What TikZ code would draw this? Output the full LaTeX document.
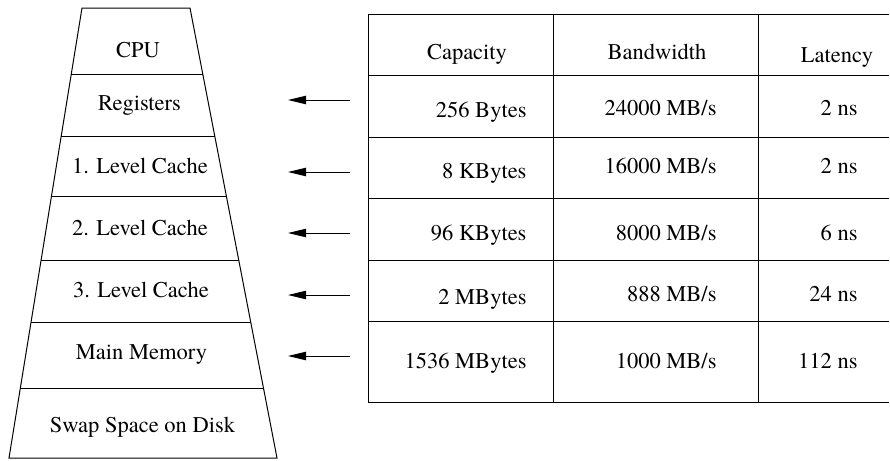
\documentclass[tikz,border=0pt]{standalone}
\usepackage{fontspec}
\setmainfont{TeX Gyre Termes}
\usetikzlibrary{calc,arrows.meta}
\begin{document}
\begin{tikzpicture}[x=0.5pt,y=-0.5pt,line width=0.5pt,
  every node/.style={font=\fontsize{11.25}{13}\selectfont,inner sep=0pt},
  layer/.style={anchor=base},
  head/.style={anchor=base},
  val/.style={anchor=base east},
  ptr/.style={-{Triangle[length=9pt,width=4.2pt]}}]
\useasboundingbox (0,0) rectangle (890,461);

% memory hierarchy pyramid
\coordinate (tl) at (82,8);
\coordinate (tr) at (190,8);
\coordinate (bl) at (9,458);
\coordinate (br) at (277,458);
\draw (tl) -- (tr) -- (br) -- (bl) -- cycle;
\foreach \y in {75,136,196,260,322,388}
  \draw ($(tl)!{(\y-8)/450}!(bl)$) -- ($(tr)!{(\y-8)/450}!(br)$);

\node[layer] (cpu)  at (138,57)  {CPU};
\node[layer] (reg)  at (139.5,110) {Registers};
\node[layer] (l1)   at (140,173) {1. Level Cache};
\node[layer] (l2)   at (140,235) {2. Level Cache};
\node[layer] (l3)   at (141,297) {3. Level Cache};
\node[layer] (mem)  at (141.5,359) {Main Memory};
\node[layer] (swap) at (142.5,432) {Swap Space on Disk};

% table grid
\foreach \y in {14,75,137,198,260,321,402}
  \draw (368,\y) -- (889,\y);
\foreach \x in {368,553,758}
  \draw (\x,14) -- (\x,402);

% header
\node[head] (hcap) at (467,59) {Capacity};
\node[head] (hbw)  at (657,59) {Bandwidth};
\node[head] (hlat) at (837,62) {Latency};

% capacity column
\node[val] (c1) at (527,117) {256 Bytes};
\node[val] (c2) at (527,178) {8 KBytes};
\node[val] (c3) at (527,240) {96 KBytes};
\node[val] (c4) at (527,304) {2 MBytes};
\node[val] (c5) at (527,368) {1536 MBytes};

% bandwidth column
\node[val] (b1) at (717,115) {24000 MB/s};
\node[val] (b2) at (717,173) {16000 MB/s};
\node[val] (b3) at (717,240) {8000 MB/s};
\node[val] (b4) at (717,301) {888 MB/s};
\node[val] (b5) at (717,368) {1000 MB/s};

% latency column
\node[val] (t1) at (858,115) {2 ns};
\node[val] (t2) at (858,173) {2 ns};
\node[val] (t3) at (858,240) {6 ns};
\node[val] (t4) at (858,301) {24 ns};
\node[val] (t5) at (858,368) {112 ns};

% pointers from table rows to pyramid levels
\foreach \i/\y in {1/100,2/172,3/233,4/295,5/356} {
  \coordinate (p\i s) at (350,\y);
  \coordinate (p\i e) at (288,\y);
  \draw[ptr] (p\i s) -- (p\i e);
}
\end{tikzpicture}
\end{document}
